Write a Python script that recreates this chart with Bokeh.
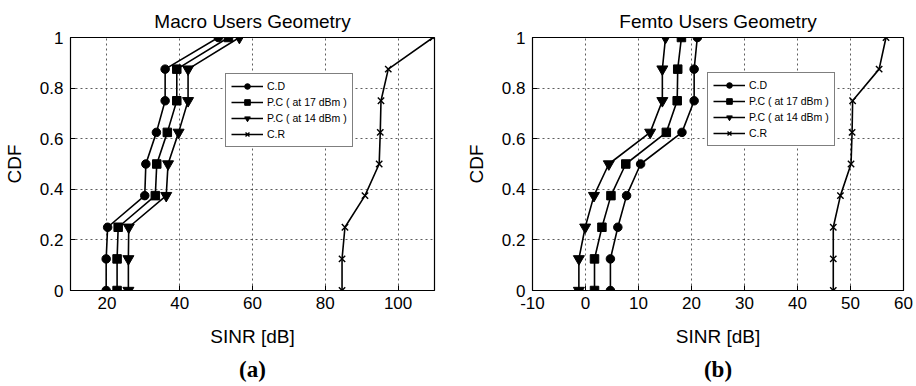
from bokeh.plotting import figure
from bokeh.layouts import row
from bokeh.models import Range1d, FixedTicker, Title, Legend, LegendItem
from bokeh.embed import file_html
from bokeh.resources import INLINE

# ---------------- data ----------------
cdf = [0, 0.125, 0.25, 0.375, 0.5, 0.625, 0.75, 0.875, 1.0]

macro_cd = [19.8, 19.8, 20.2, 30.4, 30.7, 33.6, 36.0, 36.0, 50.6]
macro_pc17 = [22.8, 22.8, 23.1, 33.3, 33.7, 36.6, 39.2, 39.2, 53.4]
macro_pc14 = [25.9, 25.9, 26.0, 36.3, 36.8, 39.7, 42.3, 42.3, 56.4]
macro_cr = [84.6, 84.6, 85.4, 90.9, 94.8, 95.1, 95.3, 97.3, 109.6]

femto_cd = [4.7, 4.7, 6.1, 7.75, 10.4, 18.2, 20.5, 20.5, 21.1]
femto_pc17 = [1.7, 1.7, 3.1, 4.8, 7.6, 15.25, 17.3, 17.4, 18.1]
femto_pc14 = [-1.25, -1.25, -0.06, 1.6, 4.4, 12.2, 14.5, 14.5, 15.1]
femto_cr = [46.75, 46.75, 46.75, 48.1, 50.1, 50.3, 50.4, 55.4, 56.7]

series_names = ["C.D", "P.C ( at 17 dBm )", "P.C ( at 14 dBm )", "C.R"]
markers = ["circle", "square", "inverted_triangle", "x"]

macro_xticks = [20, 40, 60, 80, 100]
femto_xticks = [-10, 0, 10, 20, 30, 40, 50, 60]
y_ticks = [0, 0.2, 0.4, 0.6, 0.8, 1.0]
y_tick_labels = ["0", "0.2", "0.4", "0.6", "0.8", "1"]

FONT = "Liberation Sans"


def make_panel(title, xr, xticks, ys, sub, borders, legend_loc):
    bl, br, bt, bb = borders
    p = figure(width=458, height=386, output_backend="svg", toolbar_location=None,
               x_range=Range1d(*xr), y_range=Range1d(0, 1),
               min_border_left=bl, min_border_right=br,
               min_border_top=bt, min_border_bottom=bb)
    p.title.text = title
    p.title.align = "center"
    p.title.text_font = FONT
    p.title.text_font_size = "19px"
    p.title.text_font_style = "normal"
    p.title.text_color = "black"
    p.title.standoff = 12

    p.outline_line_color = "black"
    p.outline_line_width = 1.2
    p.background_fill_color = "white"
    p.border_fill_color = "white"

    for ax in (p.xaxis[0], p.yaxis[0]):
        ax.axis_line_color = "black"
        ax.major_tick_in = 5
        ax.major_tick_out = 0
        ax.minor_tick_line_color = None
        ax.major_label_text_font = FONT
        ax.major_label_text_font_size = "17px"
        ax.major_label_text_color = "black"
        ax.axis_label_text_font = FONT
        ax.axis_label_text_font_size = "19px"
        ax.axis_label_text_font_style = "normal"
        ax.axis_label_text_color = "black"

    p.xaxis.ticker = FixedTicker(ticks=xticks)
    p.xaxis.major_label_overrides = {t: str(t) for t in xticks}
    p.yaxis.ticker = FixedTicker(ticks=y_ticks)
    p.yaxis.major_label_overrides = {t: l for t, l in zip(y_ticks, y_tick_labels)}
    p.xaxis.axis_label = "SINR [dB]"
    p.yaxis.axis_label = "CDF"
    p.xaxis.major_label_standoff = 6
    p.xaxis.axis_label_standoff = 14
    p.yaxis.major_label_standoff = 7
    p.yaxis.axis_label_standoff = 12

    for g in (p.xgrid[0], p.ygrid[0]):
        g.grid_line_color = "black"
        g.grid_line_dash = "2 3"
        g.grid_line_width = 0.8
        g.grid_line_alpha = 0.8

    items = []
    for name, mk, xs in zip(series_names, markers, ys):
        ln = p.line(xs, cdf, line_color="black", line_width=1.6)
        if mk == "x":
            sc = p.scatter(xs, cdf, marker="x", size=9, line_color="black", line_width=1.4)
        elif mk == "inverted_triangle":
            sc = p.scatter(xs, cdf, marker=mk, size=11, fill_color="black", line_color="black")
        else:
            sc = p.scatter(xs, cdf, marker=mk, size=8.5, fill_color="black", line_color="black")
        items.append(LegendItem(label=name, renderers=[ln, sc]))

    leg = Legend(items=items, location=legend_loc)
    leg.label_text_font = FONT
    leg.label_text_font_size = "10.5px"
    leg.label_text_color = "black"
    leg.border_line_color = "black"
    leg.border_line_width = 1.2
    leg.background_fill_alpha = 1
    leg.glyph_width = 32
    leg.glyph_height = 14
    leg.label_height = 14
    leg.label_standoff = 4
    leg.spacing = 2
    leg.padding = 5
    leg.margin = 0
    p.add_layout(leg, "center")

    p.add_layout(Title(text=sub, align="center", text_font="Liberation Serif",
                       text_font_style="bold", text_font_size="23px",
                       text_color="black"), "below")
    return p


p1 = make_panel("Macro Users Geometry", (10, 110), macro_xticks,
                [macro_cd, macro_pc17, macro_pc14, macro_cr], "(a)",
                (69, 24, 37, 94), (155, 143))
p2 = make_panel("Femto Users Geometry", (-10, 60), femto_xticks,
                [femto_cd, femto_pc17, femto_pc14, femto_cr], "(b)",
                (74, 13, 35, 94), (175, 144))

layout = row(p1, p2)
open("out.html", "w").write(file_html(layout, INLINE))
